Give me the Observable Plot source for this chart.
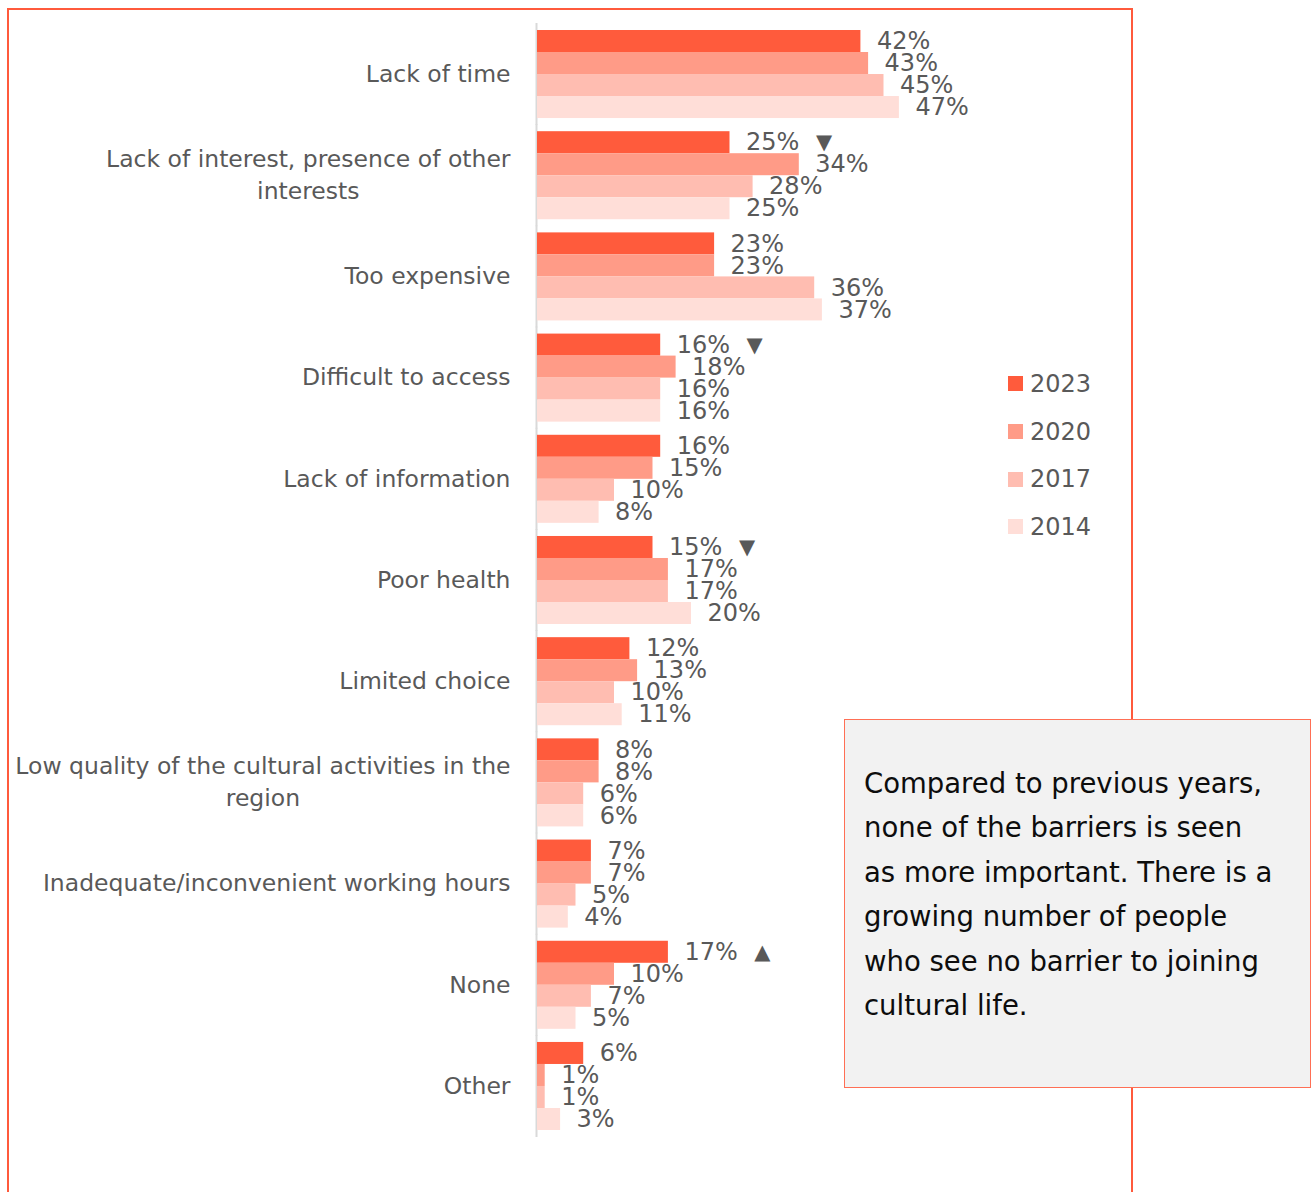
<!DOCTYPE html>
<html><head><meta charset="utf-8">
<script src="https://cdn.jsdelivr.net/npm/d3@7"></script>
<script src="https://cdn.jsdelivr.net/npm/@observablehq/plot@0.6"></script>
<style>
html,body{margin:0;padding:0;background:#fff;overflow:hidden;}
#wrap{position:relative;width:1314px;height:1192px;overflow:hidden;font-family:"DejaVu Sans",Verdana,sans-serif;}
#chart{position:absolute;left:0;top:0;}
#frame{position:absolute;left:7px;top:8px;width:1126px;height:1300px;border:2px solid #FF5A3C;box-sizing:border-box;pointer-events:none;}
#legend{position:absolute;left:1008px;top:360px;}
.li{height:47.7px;display:flex;align-items:center;font-size:24px;color:#595959;}
.sw{width:15px;height:15px;margin-right:7px;}
#note{position:absolute;left:844px;top:719px;width:467px;height:369px;box-sizing:border-box;background:#f2f2f2;border:1px solid #FF6F55;padding:41px 0 0 19px;font-size:27.5px;line-height:44.4px;color:#0d0d0d;white-space:nowrap;}
</style>
</head><body>
<div id="wrap">
  <div id="chart"></div>
  <div id="frame"></div>
  <div id="legend"></div>
  <div id="note">Compared to previous years,<br>none of the barriers is seen<br>as more important. There is a<br>growing number of people<br>who see no barrier to joining<br>cultural life.</div>
</div>
<script>
const categories = [
  "Lack of time",
  "Lack of interest, presence of other\ninterests",
  "Too expensive",
  "Difficult to access",
  "Lack of information",
  "Poor health",
  "Limited choice",
  "Low quality of the cultural activities in the\nregion",
  "Inadequate/inconvenient working hours",
  "None",
  "Other"
];
const years = ["2023", "2020", "2017", "2014"];
const v2023 = [42, 25, 23, 16, 16, 15, 12, 8, 7, 17, 6];
const v2020 = [43, 34, 23, 18, 15, 17, 13, 8, 7, 10, 1];
const v2017 = [45, 28, 36, 16, 10, 17, 10, 6, 5, 7, 1];
const v2014 = [47, 25, 37, 16, 8, 20, 11, 6, 4, 5, 3];
const colors = ["#FF5B3C", "#FF9B87", "#FFBDB1", "#FFDED8"];
// change markers shown after the 2023 value
const markerCategories = [
  "Lack of interest, presence of other\ninterests",
  "Difficult to access",
  "Poor health",
  "None"
];
const markerSymbols = ["▼", "▼", "▼", "▲"];

const series = [v2023, v2020, v2017, v2014];
const data = [];
categories.forEach((c, i) => years.forEach((y, j) => data.push({category: c, year: y, value: series[j][i]})));
const markers = markerCategories.map((c, k) => ({category: c, symbol: markerSymbols[k], value: v2023[categories.indexOf(c)]}));

const labelSize = 23.5;
const ctx = document.createElement("canvas").getContext("2d");
ctx.font = labelSize + "px 'DejaVu Sans'";
const labelMarks = categories.map(c => {
  const w = Math.max(...c.split("\n").map(l => ctx.measureText(l).width));
  return Plot.text([c], {fy: d => d, frameAnchor: "left", text: d => d, textAnchor: "middle",
    dx: -(27 + w / 2), dy: -3, fontSize: labelSize, lineHeight: 1.36, fill: "#595959"});
});

const chart = Plot.plot({
  width: 1314, height: 1192,
  marginLeft: 537, marginRight: 315, marginTop: 30, marginBottom: 62,
  style: {fontFamily: "DejaVu Sans, Verdana, sans-serif", background: "transparent"},
  x: {domain: [0, 60], axis: null},
  y: {domain: years, axis: null, padding: 0, round: false},
  fy: {domain: categories, axis: null, paddingInner: 0.13, paddingOuter: 0, round: false},
  color: {domain: years, range: colors},
  marks: [
    Plot.ruleX([0], {stroke: "#d9d9d9", strokeWidth: 2, insetTop: -7, insetBottom: -7, dx: -1}),
    Plot.barX(data, {x: "value", y: "year", fy: "category", fill: "year"}),
    Plot.text(data, {x: "value", y: "year", fy: "category", text: d => d.value + "%", dx: 16,
      textAnchor: "start", fill: "#595959", fontSize: 24}),
    Plot.text(markers, {x: "value", y: () => "2023", fy: "category", text: "symbol", dx: 94,
      textAnchor: "middle", fill: "#595959", fontSize: 21}),
    ...labelMarks
  ]
});
document.getElementById("chart").appendChild(chart);

const legend = document.getElementById("legend");
years.forEach((y, j) => {
  const row = document.createElement("div");
  row.className = "li";
  row.innerHTML = `<div class="sw" style="background:${colors[j]}"></div><span>${y}</span>`;
  legend.appendChild(row);
});
</script>
</body></html>
